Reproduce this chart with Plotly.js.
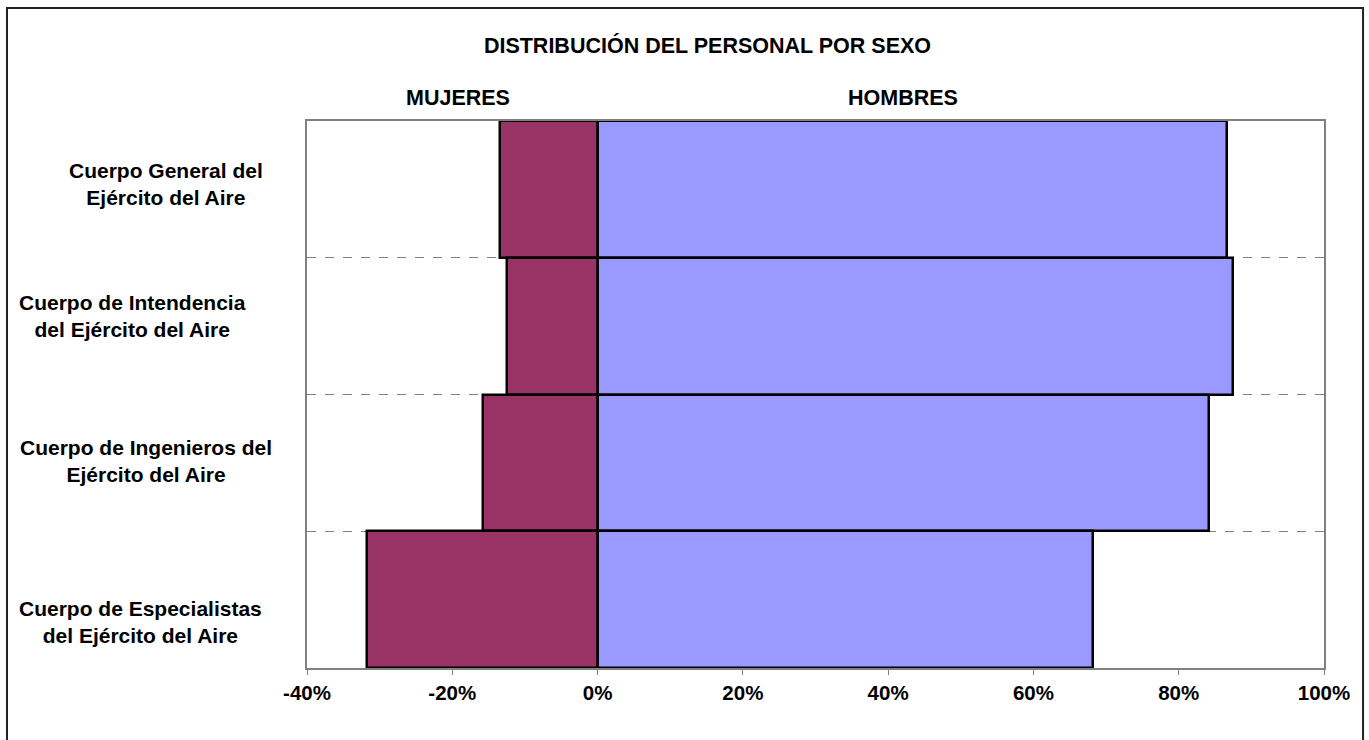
<!DOCTYPE html>
<html>
<head>
<meta charset="utf-8">
<script src="https://cdn.plot.ly/plotly-3.0.1.min.js"></script>
<style>
  html, body { margin: 0; padding: 0; background: #ffffff; }
  #chart { width: 1369px; height: 740px; }
</style>
</head>
<body>
<div id="chart"></div>
<script>
// ---- data ----
const categories = [
  "Cuerpo General del<br>Ejército del Aire",
  "Cuerpo de Intendencia<br>del Ejército del Aire",
  "Cuerpo de Ingenieros del<br>Ejército del Aire",
  "Cuerpo de Especialistas<br>del Ejército del Aire"
];
const mujeres = [-13.4, -12.5, -15.8, -31.8];
const hombres = [86.6, 87.5, 84.2, 68.2];
const tickValues = [-40, -20, 0, 20, 40, 60, 80, 100];
const tickLabels = ["-40%", "-20%", "0%", "20%", "40%", "60%", "80%", "100%"];
const seriesNames = ["MUJERES", "HOMBRES"];
const chartTitle = "DISTRIBUCIÓN DEL PERSONAL POR SEXO";

// ---- layout helpers (positions/styles, not data) ----
const labelX = [-0.1386, -0.1711, -0.1583, -0.1642];
const labelShift = [5, 10, 2, -22];
const FONT = "Liberation Sans, Arial, sans-serif";

const traces = [
  {
    type: "bar", orientation: "h", name: seriesNames[0],
    y: categories, x: mujeres, width: 1,
    marker: { color: "#993366", line: { color: "#000000", width: 2.5 } },
    hoverinfo: "x+y"
  },
  {
    type: "bar", orientation: "h", name: seriesNames[1],
    y: categories, x: hombres, width: 1,
    marker: { color: "#9999FF", line: { color: "#000000", width: 2.5 } },
    hoverinfo: "x+y"
  }
];

const annotations = categories.map((c, i) => ({
  xref: "paper", yref: "y", x: labelX[i], y: c,
  xanchor: "center", yanchor: "middle", align: "center",
  yshift: labelShift[i],
  text: c, showarrow: false,
  font: { family: FONT, size: 21, color: "#000", weight: 700 }
}));
annotations.push({
  xref: "paper", yref: "paper", x: 0.1485, y: 1.042,
  xanchor: "center", yanchor: "middle", text: seriesNames[0], showarrow: false,
  font: { family: FONT, size: 21.5, color: "#000", weight: 700 }
});
annotations.push({
  xref: "paper", yref: "paper", x: 0.586, y: 1.042,
  xanchor: "center", yanchor: "middle", text: seriesNames[1], showarrow: false,
  font: { family: FONT, size: 21.5, color: "#000", weight: 700 }
});

const layout = {
  width: 1369, height: 740,
  margin: { l: 307, r: 45, t: 121, b: 72, pad: 0 },
  paper_bgcolor: "#ffffff", plot_bgcolor: "#ffffff",
  barmode: "relative", bargap: 0,
  showlegend: false,
  title: {
    text: chartTitle, xref: "container", yref: "container",
    x: 0.5168, y: 0.938, xanchor: "center", yanchor: "middle",
    font: { family: FONT, size: 21.5, color: "#000", weight: 700 }
  },
  xaxis: {
    range: [-40, 100], tickvals: tickValues, ticktext: tickLabels,
    showgrid: false, zeroline: false,
    showline: true, linecolor: "#808080", linewidth: 2, mirror: true,
    ticks: "outside", ticklen: 5, tickcolor: "#808080", tickwidth: 1,
    tickfont: { family: FONT, size: 20.5, color: "#000", weight: 700 },
    fixedrange: true
  },
  yaxis: {
    type: "category", autorange: "reversed",
    tickson: "boundaries", ticks: "", showticklabels: false,
    showgrid: true, gridcolor: "#808080", griddash: "dash", gridwidth: 1,
    showline: true, linecolor: "#808080", linewidth: 2, mirror: true,
    zeroline: false, fixedrange: true
  },
  annotations: annotations,
  shapes: [{
    type: "rect", xref: "paper", yref: "paper",
    x0: -0.2950, x1: 1.0384, y0: -0.16, y1: 1.2066,
    line: { color: "#222222", width: 2 }, fillcolor: "rgba(0,0,0,0)", layer: "above"
  }]
};

Plotly.newPlot("chart", traces, layout, { displayModeBar: false, staticPlot: false });
</script>
</body>
</html>
